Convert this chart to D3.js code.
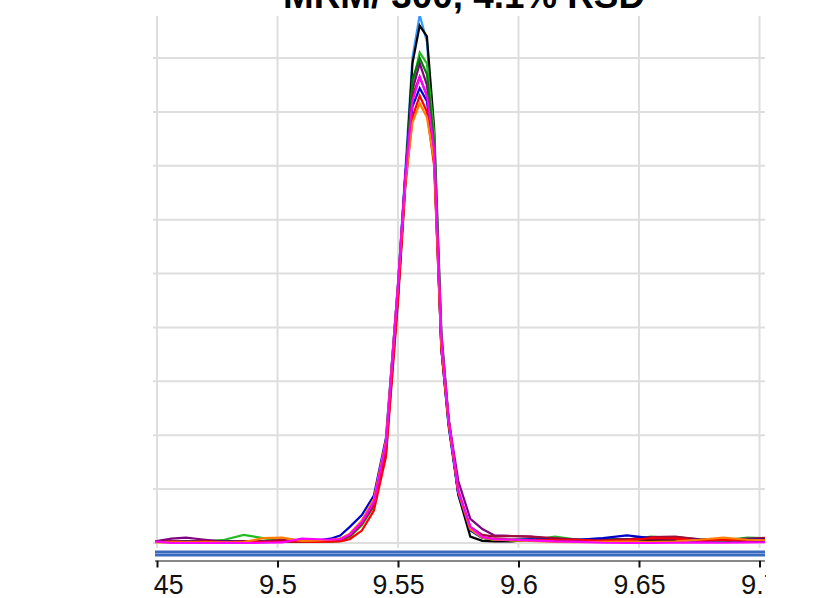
<!DOCTYPE html>
<html>
<head>
<meta charset="utf-8">
<script src="https://cdn.jsdelivr.net/npm/d3@7"></script>
<style>
  body { margin: 0; background: #fff; }
  svg { display: block; }
</style>
</head>
<body>
<div id="chart"></div>
<script>
/* Data: retention time (min) shared by all injections, abundance in counts */
var TITLE = "MRM/ 300, 4.1% RSD";
var times = [9.449, 9.456, 9.462, 9.47, 9.478, 9.486, 9.494, 9.502, 9.51, 9.517,
  9.522, 9.526, 9.53, 9.535, 9.54, 9.545, 9.55, 9.553, 9.556, 9.559,
  9.562, 9.565, 9.568, 9.571, 9.575, 9.58, 9.585, 9.59, 9.597, 9.605,
  9.615, 9.625, 9.635, 9.645, 9.655, 9.665, 9.675, 9.685, 9.695, 9.703];
var tickValues = [9.45, 9.5, 9.55, 9.6, 9.65, 9.7];
var gridValues = [0, 1000, 2000, 3000, 4000, 5000, 6000, 7000, 8000, 9000];

var seriesNames = ["inj1", "inj2", "inj3", "inj4", "inj5", "inj6", "inj7", "inj8", "inj9", "inj10"];
var seriesColors = ["#3399ff", "#000000", "#22bb22", "#800080", "#007a00",
  "#a0103a", "#0000cc", "#ff0000", "#ff8000", "#ff00ff"];

var inj1 = [20, 15, 20, 15, 25, 20, 15, 30, 25, 40, 50, 70, 160, 400, 780, 1850, 4800, 6900, 9000, 9800,
  9300, 7400, 3600, 2150, 900, 230, 90, 60, 40, 50, 60, 70, 80, 60, 70, 60, 50, 80, 60, 50];
var inj2 = [30, 25, 20, 30, 25, 20, 30, 25, 30, 40, 45, 65, 150, 370, 720, 1750, 4600, 6700, 8900, 9600,
  9400, 7700, 3900, 2300, 900, 120, 40, 30, 30, 60, 50, 40, 60, 70, 50, 60, 40, 50, 40, 30];
var inj3 = [20, 30, 25, 30, 60, 150, 90, 30, 20, 30, 20, 40, 110, 330, 680, 1650, 4500, 6600, 8500, 9100,
  8900, 7600, 3800, 2300, 950, 250, 100, 60, 50, 40, 120, 60, 50, 60, 120, 90, 60, 50, 100, 90];
var inj4 = [30, 80, 100, 60, 25, 20, 30, 25, 30, 40, 50, 65, 160, 390, 760, 1800, 4700, 6800, 8400, 8900,
  8500, 7300, 3700, 2300, 1150, 450, 260, 140, 130, 120, 70, 60, 60, 70, 90, 100, 60, 60, 80, 90];
var inj5 = [25, 20, 30, 20, 25, 30, 25, 20, 25, 35, 55, 75, 140, 360, 720, 1750, 4600, 6700, 8600, 9000,
  8700, 7400, 3700, 2250, 930, 240, 100, 60, 60, 70, 60, 50, 70, 60, 100, 110, 70, 60, 70, 60];
var inj6 = [20, 25, 20, 30, 20, 25, 30, 60, 30, 35, 40, 60, 130, 350, 700, 1700, 4600, 6700, 8300, 8650,
  8300, 7200, 3600, 2200, 950, 300, 150, 120, 130, 120, 90, 60, 50, 70, 110, 120, 70, 60, 70, 100];
var inj7 = [25, 20, 25, 20, 30, 25, 20, 30, 35, 50, 80, 140, 300, 520, 880, 1950, 4800, 6800, 8100, 8440,
  8200, 7100, 3600, 2200, 930, 240, 100, 70, 60, 70, 60, 60, 90, 140, 90, 70, 60, 70, 60, 70];
var inj8 = [20, 25, 20, 25, 20, 25, 20, 30, 25, 20, 25, 30, 70, 230, 600, 1600, 4500, 6600, 7900, 8300,
  8000, 7000, 3600, 2250, 950, 260, 110, 70, 60, 50, 60, 60, 40, 50, 90, 80, 50, 60, 50, 60];
var inj9 = [10, 10, 10, 10, 10, 15, 90, 100, 40, 50, 60, 80, 170, 420, 820, 1900, 4800, 6700, 7800, 8160,
  7900, 7100, 3700, 2250, 960, 260, 100, 60, 50, 40, 20, 15, 20, 25, 20, 30, 60, 100, 60, 50];
var inj10 = [30, 0, 0, 0, 5, 0, 5, 10, 80, 70, 60, 70, 160, 390, 770, 1850, 4800, 6800, 8200, 8650,
  8300, 7300, 3800, 2300, 980, 300, 110, 70, 60, 50, 30, 20, 5, 0, 0, 5, 10, 5, 10, 15];

var seriesValues = [inj1, inj2, inj3, inj4, inj5, inj6, inj7, inj8, inj9, inj10];

/* Layout */
var W = 816, H = 598;
var plot = { left: 155, right: 765, top: 16, bottom: 548 };

var xScale = d3.scaleLinear().domain([9.45, 9.7]).range([157, 759.5]);
var yScale = d3.scaleLinear().domain([0, 9000]).range([543, 58]);

var svg = d3.select("#chart").append("svg")
  .attr("width", W)
  .attr("height", H);

var defs = svg.append("defs");
defs.append("clipPath").attr("id", "plotClip")
  .append("rect")
  .attr("x", plot.left).attr("y", plot.top)
  .attr("width", plot.right - plot.left)
  .attr("height", plot.bottom - plot.top);
defs.append("clipPath").attr("id", "labelClip")
  .append("rect")
  .attr("x", plot.left - 1).attr("y", 0)
  .attr("width", plot.right - plot.left + 2)
  .attr("height", H);

/* Grid */
var grid = svg.append("g").attr("class", "grid");
grid.selectAll(".vgrid")
  .data(tickValues)
  .enter()
  .append("line")
  .attr("x1", d => xScale(d)).attr("x2", d => xScale(d))
  .attr("y1", plot.top).attr("y2", plot.bottom)
  .style("stroke", "#dedede")
  .style("stroke-width", 2);
grid.selectAll(".hgrid")
  .data(gridValues)
  .enter()
  .append("line")
  .attr("x1", plot.left - 2).attr("x2", plot.right)
  .attr("y1", d => yScale(d)).attr("y2", d => yScale(d))
  .style("stroke", "#dedede")
  .style("stroke-width", 2);

/* Traces */
var line = d3.line()
  .x((d, i) => xScale(times[i]))
  .y(d => yScale(d));

svg.append("g")
  .attr("class", "lines")
  .attr("clip-path", "url(#plotClip)")
  .selectAll("path")
  .data(seriesValues)
  .enter()
  .append("path")
  .attr("class", (d, i) => "line " + seriesNames[i])
  .attr("d", d => line(d))
  .style("fill", "none")
  .style("stroke", (d, i) => seriesColors[i])
  .style("stroke-width", 2.2)
  .style("stroke-linejoin", "miter");

/* Blue time bar under the traces */
svg.append("rect")
  .attr("x", plot.left).attr("y", 550.5)
  .attr("width", plot.right - plot.left).attr("height", 6)
  .style("fill", "#3a6bbf");
svg.append("line")
  .attr("x1", plot.left).attr("x2", plot.right)
  .attr("y1", 553.5).attr("y2", 553.5)
  .style("stroke", "#7fa0dc")
  .style("stroke-width", 1);

/* X axis */
var xAxis = d3.axisBottom(xScale)
  .tickValues(tickValues)
  .tickSize(7)
  .tickSizeOuter(0)
  .tickFormat(d => String(+d.toFixed(2)));

var axisG = svg.append("g")
  .attr("class", "x axis")
  .attr("transform", "translate(0, 560.5)")
  .attr("clip-path", "url(#labelClip)")
  .call(xAxis);

axisG.select(".domain").remove();
axisG.append("line")
  .attr("x1", plot.left).attr("x2", plot.right)
  .attr("y1", 0).attr("y2", 0)
  .style("stroke", "#111")
  .style("stroke-width", 2);
axisG.selectAll(".tick line")
  .style("stroke", "#111")
  .style("stroke-width", 2);
axisG.selectAll(".tick text")
  .attr("y", 34)
  .attr("dy", 0)
  .attr("transform", "scale(0.74,1)")
  .attr("textLength", d => (14 * String(+d.toFixed(2)).length - 4) / 0.74)
  .attr("lengthAdjust", "spacingAndGlyphs")
  .style("font-family", "'Liberation Sans', Arial, sans-serif")
  .style("font-size", "28px")
  .style("fill", "#111");

/* Title, partly above the page edge */
svg.append("text")
  .attr("x", 464)
  .attr("y", 8)
  .attr("text-anchor", "middle")
  .attr("textLength", 362)
  .attr("lengthAdjust", "spacingAndGlyphs")
  .style("font-family", "'Liberation Sans', Arial, sans-serif")
  .style("font-weight", "bold")
  .style("font-size", "37px")
  .style("fill", "#000")
  .text(TITLE);
</script>
</body>
</html>
